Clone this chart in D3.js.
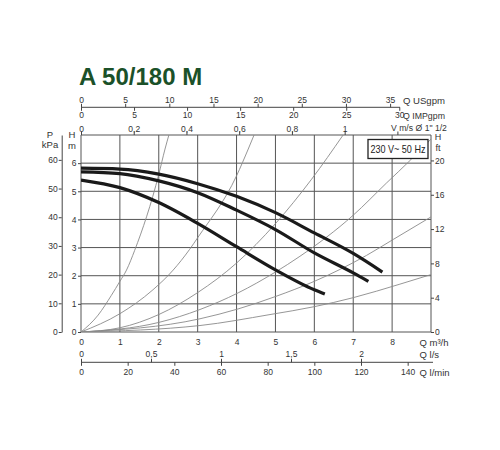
<!DOCTYPE html>
<html>
<head>
<meta charset="utf-8">
<script src="https://cdn.jsdelivr.net/npm/d3@7"></script>
<style>
  body { margin: 0; background: #fff; }
  text { font-family: "Liberation Sans", Arial, sans-serif; fill: #333; }
</style>
</head>
<body>
<div id="chart"></div>
<script>
// ---- data ----
var qTicks = [0, 1, 2, 3, 4, 5, 6, 7, 8];
var hTicks = [0, 1, 2, 3, 4, 5, 6];
var pTicks = [0, 10, 20, 30, 40, 50, 60];
var ftTicks = [0, 4, 8, 12, 16, 20];
var usgpmTicks = [0, 5, 10, 15, 20, 25, 30, 35];
var impgpmTicks = [0, 5, 10, 15, 20, 25, 30];
var velTicks = [0, 0.2, 0.4, 0.6, 0.8, 1, 1.2];
var velLabels = ["0", "0,2", "0,4", "0,6", "0,8", "1", ""];
var lsTicks = [0, 0.5, 1, 1.5, 2];
var lsLabels = ["0", "0,5", "1", "1,5", "2"];
var lminTicks = [0, 20, 40, 60, 80, 100, 120, 140];

// pump curves: [Q m3/h, H m]
var pumpHigh = [[0, 5.82], [1, 5.79], [2, 5.61], [3, 5.27], [4, 4.82], [5, 4.24], [6, 3.52], [7, 2.79], [7.75, 2.13]];
var pumpMid  = [[0, 5.69], [1, 5.63], [2, 5.37], [3, 4.95], [4, 4.33], [5, 3.64], [6, 2.81], [7, 2.1], [7.39, 1.8]];
var pumpLow  = [[0, 5.40], [1, 5.13], [2, 4.6], [3, 3.86], [4, 3.03], [5, 2.21], [6, 1.5], [6.27, 1.35]];

// thin system curves
var sysA = [[0, 0], [0.44, 0.6], [0.78, 1.3], [1, 1.8], [1.17, 2.2], [1.38, 2.9], [2, 5.6], [2.16, 6.5], [2.26, 7]];
var sysB = [[0, 0], [1, 0.65], [1.85, 1.5], [2.37, 2.2], [2.79, 2.93], [3, 3.35], [4, 5.55], [4.3, 6.5], [4.45, 7]];
var sysC = [[0, 0], [1, 0.15], [2, 0.62], [3, 1.4], [4, 2.45], [5, 3.85], [5.93, 5.43], [6.74, 7]];
var sysD = [[0, 0], [2, 0.34], [3.06, 0.8], [4.04, 1.39], [5, 2.13], [5.63, 2.69], [7, 4.15], [7.86, 5.3], [8.48, 6.12], [9.1, 7]];
var sysE = [[0, 0], [3.06, 0.47], [4.04, 0.82], [5, 1.26], [6, 1.8], [7.34, 2.72], [8.03, 3.29], [9, 4.09]];
var sysF = [[0, 0], [3.06, 0.23], [4.86, 0.62], [6, 0.9], [7, 1.22], [8.2, 1.7], [9, 2.04]];

var svg = d3.select("#chart").append("svg")
    .attr("width", 500)
    .attr("height", 450);

// plot frame
var x0 = 81, x1 = 431, yBot = 332, yTop = 135;
var x = d3.scaleLinear().domain([0, 9]).range([x0, x1]);
var y = d3.scaleLinear().domain([0, 7]).range([yBot, yTop]);

// unit conversions to m3/h and m
var xUS = d3.scaleLinear().domain([0, 9 / 0.2271]).range([x0, x1]);
var xIMP = d3.scaleLinear().domain([0, 9 / 0.2728]).range([x0, x1]);
var xV = d3.scaleLinear().domain([0, 9 / 6.78]).range([x0, x1]);
var xLs = d3.scaleLinear().domain([0, 9 / 3.6]).range([x0, x1]);
var xLmin = d3.scaleLinear().domain([0, 9 / 0.06]).range([x0, x1]);
var yP = d3.scaleLinear().domain([0, 7 * 9.81]).range([yBot, yTop]);
var yFt = d3.scaleLinear().domain([0, 7 / 0.3048]).range([yBot, yTop]);

// title
svg.append("text")
    .attr("x", 79).attr("y", 84.5)
    .style("font-size", "24px").style("font-weight", "bold")
    .style("fill", "#1b5129")
    .text("A 50/180 M");

function styleAxis(g) {
    g.selectAll("line").attr("stroke", "#444");
    g.selectAll("path").attr("stroke", "#444");
    g.selectAll("text").style("font-size", "8.5px").style("fill", "#333")
        .style("font-family", "'Liberation Sans', Arial, sans-serif");
}

// squeeze a text horizontally to a given width (narrow typeface look)
function squeeze(t, xx, yy, len) {
    var w = t.node().getComputedTextLength();
    var k = (len && w > 0) ? len / w : 1;
    t.attr("x", 0).attr("y", 0)
        .attr("transform", "translate(" + xx + "," + yy + ") scale(" + k + ",1)");
}

// grid
var grid = svg.append("g");
grid.selectAll(".gv").data(d3.range(0, 10)).enter().append("line")
    .attr("x1", function (d) { return x(d); }).attr("x2", function (d) { return x(d); })
    .attr("y1", yBot).attr("y2", yTop)
    .attr("stroke", "#555").attr("stroke-width", 1);
grid.selectAll(".gh").data(d3.range(0, 8)).enter().append("line")
    .attr("x1", x0).attr("x2", x1)
    .attr("y1", function (d) { return y(d); }).attr("y2", function (d) { return y(d); })
    .attr("stroke", "#555").attr("stroke-width", 1);

// clip for curves
svg.append("clipPath").attr("id", "plotclip").append("rect")
    .attr("x", x0).attr("y", yTop).attr("width", x1 - x0).attr("height", yBot - yTop);

var line = d3.line()
    .x(function (d) { return x(d[0]); })
    .y(function (d) { return y(d[1]); })
    .curve(d3.curveMonotoneX);

var curves = svg.append("g").attr("clip-path", "url(#plotclip)");
[sysA, sysB, sysC, sysD, sysE, sysF].forEach(function (s) {
    curves.append("path").attr("d", line(s))
        .attr("fill", "none").attr("stroke", "#8a8a8a").attr("stroke-width", 0.9);
});
[pumpHigh, pumpMid, pumpLow].forEach(function (s) {
    curves.append("path").attr("d", line(s))
        .attr("fill", "none").attr("stroke", "#1a1a1a").attr("stroke-width", 3.2)
        .attr("stroke-linecap", "butt");
});

// box label
svg.append("rect")
    .attr("x", 368).attr("y", 139.5).attr("width", 60).attr("height", 19)
    .attr("fill", "#fff").attr("stroke", "#222").attr("stroke-width", 1.3);
var boxText = svg.append("text")
    .style("font-size", "11.5px").style("fill", "#222")
    .text("230 V~ 50 Hz");
squeeze(boxText, 370.5, 153, 55);

// left H axis
svg.append("g").attr("transform", "translate(" + x0 + ",0)")
    .call(d3.axisLeft(y).tickValues(hTicks).tickSize(3).tickPadding(1.5)
        .tickFormat(d3.format("d")))
    .call(function (g) { g.select(".domain").remove(); })
    .call(styleAxis);

// P axis
svg.append("g").attr("transform", "translate(61.7,0)")
    .call(d3.axisLeft(yP).tickValues(pTicks).tickSize(3).tickSizeOuter(0).tickPadding(1)
        .tickFormat(d3.format("d")))
    .call(styleAxis);

// right ft axis
svg.append("g").attr("transform", "translate(" + x1 + ",0)")
    .call(d3.axisRight(yFt).tickValues(ftTicks).tickSize(3).tickPadding(1)
        .tickFormat(d3.format("d")))
    .call(function (g) { g.select(".domain").remove(); })
    .call(styleAxis);

// bottom Q m3/h labels
svg.append("g").attr("transform", "translate(0," + yBot + ")")
    .call(d3.axisBottom(x).tickValues(qTicks).tickSize(0).tickPadding(7)
        .tickFormat(d3.format("d")))
    .call(function (g) { g.select(".domain").remove(); })
    .call(styleAxis);

// l/s and l/min axes sharing one line
var yLs = 362.3;
svg.append("line").attr("x1", x0).attr("x2", 433).attr("y1", yLs).attr("y2", yLs)
    .attr("stroke", "#444");
svg.append("g").attr("transform", "translate(0," + yLs + ")")
    .call(d3.axisTop(xLs).tickValues(lsTicks).tickSize(3.5).tickPadding(1.5)
        .tickFormat(function (d, i) { return lsLabels[i]; }))
    .call(function (g) { g.select(".domain").remove(); })
    .call(styleAxis);
svg.append("g").attr("transform", "translate(0," + yLs + ")")
    .call(d3.axisBottom(xLmin).tickValues(lminTicks).tickSize(3.5).tickPadding(3))
    .call(function (g) { g.select(".domain").remove(); })
    .call(styleAxis);

// USgpm and IMPgpm axes sharing one line
var yGpm = 107.3;
svg.append("line").attr("x1", x0).attr("x2", 400).attr("y1", yGpm).attr("y2", yGpm)
    .attr("stroke", "#444");
svg.append("g").attr("transform", "translate(0," + yGpm + ")")
    .call(d3.axisTop(xUS).tickValues(usgpmTicks).tickSize(3.5).tickPadding(0.5))
    .call(function (g) { g.select(".domain").remove(); })
    .call(styleAxis);
svg.append("g").attr("transform", "translate(0," + yGpm + ")")
    .call(d3.axisBottom(xIMP).tickValues(impgpmTicks).tickSize(3.5).tickPadding(1.5))
    .call(function (g) { g.select(".domain").remove(); })
    .call(styleAxis);

// velocity ticks on plot top
svg.append("g").attr("transform", "translate(0," + yTop + ")")
    .call(d3.axisTop(xV).tickValues(velTicks).tickSize(3.5).tickPadding(0)
        .tickFormat(function (d, i) { return velLabels[i]; }))
    .call(function (g) { g.select(".domain").remove(); })
    .call(styleAxis);

// unit labels
function unit(txt, xx, yy, anchor, len, size) {
    var t = svg.append("text").attr("x", xx).attr("y", yy)
        .attr("text-anchor", anchor || "start")
        .style("font-size", (size || 9.5) + "px").style("fill", "#333")
        .text(txt);
    if (len) squeeze(t, xx, yy, len);
}
unit("Q USgpm", 403, 103.5, "start", 42);
unit("Q IMPgpm", 403, 119, "start", 42);
unit("V m/s Ø 1\" 1/2", 391, 130.5, "start", 56);
unit("P", 50, 138.3, "middle");
unit("kPa", 50, 148.3, "middle");
unit("H", 72, 138.3, "middle");
unit("m", 72, 148.5, "middle");
unit("H", 438, 139.5, "middle", null, 9);
unit("ft", 438, 151, "middle", null, 9);
unit("Q m³/h", 419.5, 346.3, "start");
unit("Q l/s", 419.5, 357.6, "start");
unit("Q l/min", 419.5, 376.3, "start");
</script>
</body>
</html>
